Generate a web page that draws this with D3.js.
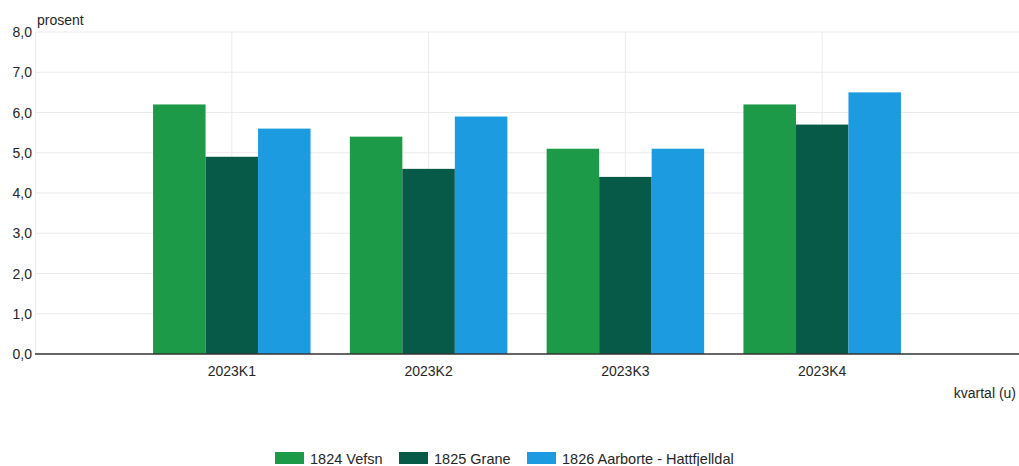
<!DOCTYPE html>
<html>
<head>
<meta charset="utf-8">
<script src="https://cdn.jsdelivr.net/npm/d3@7"></script>
<style>
  html, body { margin: 0; padding: 0; background: #fff; }
  svg { display: block; font-family: "Liberation Sans", Arial, sans-serif; }
</style>
</head>
<body>
<svg id="chart" width="1019" height="466"></svg>
<script>
// Quarterly values (prosent) per municipality
const categories = ["2023K1", "2023K2", "2023K3", "2023K4"];
const seriesNames = ["1824 Vefsn", "1825 Grane", "1826 Aarborte - Hattfjelldal"];
const vefsn = [6.2, 5.4, 5.1, 6.2];
const grane = [4.9, 4.6, 4.4, 5.7];
const aarborte = [5.6, 5.9, 5.1, 6.5];
const yTicks = [0, 1, 2, 3, 4, 5, 6, 7, 8];
const colors = ["#1d9a48", "#075a47", "#1d9be0"];

const series = [vefsn, grane, aarborte];

const svg = d3.select("#chart");
const plotLeft = 35, plotRight = 1019, plotTop = 32, plotBottom = 354;
const textColor = "#262626";

const y = d3.scaleLinear().domain([0, 8]).range([plotBottom, plotTop]);

// Category centres sit on evenly spaced points with a full step of padding at each end
const x = d3.scalePoint().domain(categories).range([plotLeft, plotRight]).padding(1);
const barW = 52.5;
const xs = d3.scaleBand().domain(d3.range(series.length)).range([-barW * 1.5, barW * 1.5]).padding(0);

// Horizontal gridlines
svg.append("g").selectAll("line").data(yTicks.slice(1)).join("line")
  .attr("x1", plotLeft).attr("x2", plotRight)
  .attr("y1", d => y(d)).attr("y2", d => y(d))
  .attr("stroke", "#ebebeb").attr("stroke-width", 1);

// Vertical gridlines at each category
svg.append("g").selectAll("line").data(categories).join("line")
  .attr("x1", d => x(d)).attr("x2", d => x(d))
  .attr("y1", plotTop).attr("y2", plotBottom)
  .attr("stroke", "#ebebeb").attr("stroke-width", 1);

// Left plot edge
svg.append("line").attr("x1", plotLeft + 0.5).attr("x2", plotLeft + 0.5)
  .attr("y1", plotTop).attr("y2", plotBottom).attr("stroke", "#ebebeb");

// Bars
series.forEach((vals, si) => {
  svg.append("g").selectAll("rect").data(vals).join("rect")
    .attr("x", (d, i) => x(categories[i]) + xs(si))
    .attr("width", xs.bandwidth())
    .attr("y", d => y(d))
    .attr("height", d => y(0) - y(d))
    .attr("fill", colors[si]);
});

// Y axis labels
const fmt = d => d.toFixed(1).replace(".", ",");
svg.append("g").selectAll("text").data(yTicks).join("text")
  .attr("x", 32).attr("y", d => y(d) + 5)
  .attr("text-anchor", "end")
  .attr("font-size", 14).attr("fill", textColor)
  .text(fmt);

// Baseline
svg.append("line").attr("x1", plotLeft).attr("x2", plotRight)
  .attr("y1", y(0)).attr("y2", y(0))
  .attr("stroke", "#333").attr("stroke-width", 1.3);

// X axis labels
svg.append("g").selectAll("text").data(categories).join("text")
  .attr("x", d => x(d)).attr("y", 376)
  .attr("text-anchor", "middle")
  .attr("font-size", 14).attr("fill", textColor)
  .text(d => d);

// Axis titles
svg.append("text").attr("x", 37).attr("y", 25)
  .attr("font-size", 14).attr("fill", textColor).text("prosent");
svg.append("text").attr("x", 1016).attr("y", 398)
  .attr("text-anchor", "end")
  .attr("font-size", 14).attr("fill", textColor).text("kvartal (u)");

// Legend
const legendX = [275, 399, 527];
const lg = svg.append("g");
seriesNames.forEach((name, i) => {
  lg.append("rect").attr("x", legendX[i]).attr("y", 452)
    .attr("width", 29).attr("height", 12).attr("fill", colors[i]);
  lg.append("text").attr("x", legendX[i] + 35).attr("y", 464)
    .attr("font-size", 14.5).attr("fill", textColor).text(name);
});
</script>
</body>
</html>
